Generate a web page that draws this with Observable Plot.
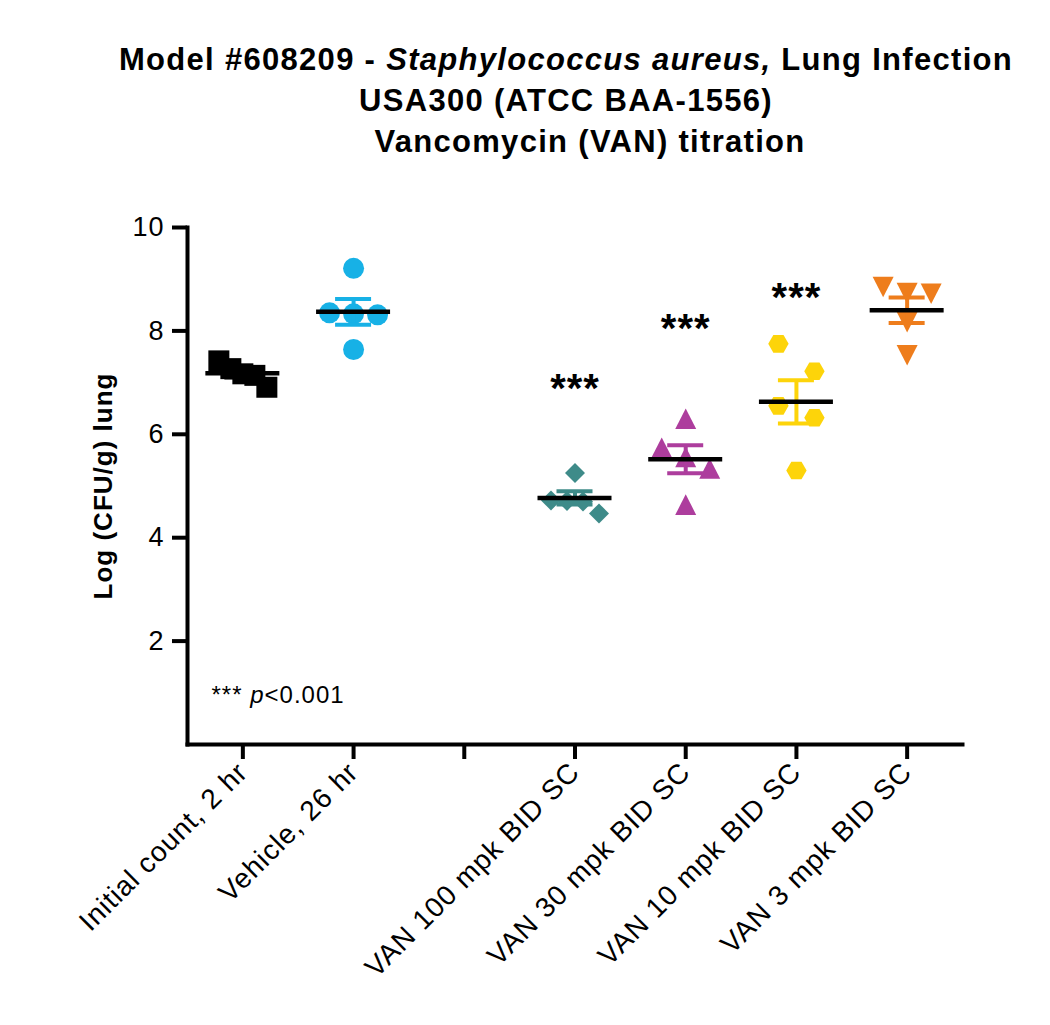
<!DOCTYPE html>
<html>
<head>
<meta charset="utf-8">
<script src="https://cdn.jsdelivr.net/npm/d3@7"></script>
<script src="https://cdn.jsdelivr.net/npm/@observablehq/plot@0.6"></script>
<style>
  body { margin: 0; background: #fff; }
  #title { height: 175px; box-sizing: border-box; padding-top: 39px; padding-left: 82px;
    text-align: center; font: bold 31px "Liberation Sans", Arial, sans-serif; line-height: 41px;
    letter-spacing: 1.3px; color: #000; }
  #title .l3 { position: relative; left: 24px; }
</style>
</head>
<body>
<div id="title">Model #608209 - <i>Staphylococcus aureus,</i> Lung Infection<br>USA300 (ATCC BAA-1556)<br><span class="l3">Vancomycin (VAN) titration</span></div>
<div id="chart"></div>
<script>
// ---- data ----
const groups = ["Initial count, 2 hr", "Vehicle, 26 hr", "", "VAN 100 mpk BID SC", "VAN 30 mpk BID SC", "VAN 10 mpk BID SC", "VAN 3 mpk BID SC"];
const initialCount = [7.42, 7.27, 7.17, 7.14, 6.91];
const vehicle = [9.21, 8.35, 8.33, 8.31, 7.64];
const van100 = [5.25, 4.72, 4.71, 4.70, 4.47];
const van30 = [6.30, 5.74, 5.56, 5.34, 4.64];
const van10 = [7.75, 7.22, 6.55, 6.32, 5.30];
const van3 = [8.85, 8.73, 8.72, 8.17, 7.53];
const sigGroups = ["VAN 100 mpk BID SC", "VAN 30 mpk BID SC", "VAN 10 mpk BID SC"];
const sigLevels = [7.0, 8.17, 8.77];
const sigLabel = "***";
const footnote = "*** p<0.001";
const yTicks = [2, 4, 6, 8, 10];
const yLabel = "Log (CFU/g) lung";

// ---- layout ----
const W = 1050, H = 850, mL = 187, mR = 88, mT = 52, mB = 281;
const step = (W - mL - mR) / groups.length;
const binOrigin = 6.88, binSize = 0.9; // scatter rows (value bins) like the column-scatter layout

// ---- symbols ----
const sym = {
  square: { draw(c, s) { const k = Math.sqrt(s / Math.PI); c.rect(-k, -k, 2 * k, 2 * k); } },
  circle: { draw(c, s) { const k = Math.sqrt(s / Math.PI); c.moveTo(k, 0); c.arc(0, 0, k, 0, 2 * Math.PI); } },
  diamond: { draw(c, s) { const h = 0.95 * Math.sqrt(s / Math.PI); c.moveTo(0, -h); c.lineTo(h, 0); c.lineTo(0, h); c.lineTo(-h, 0); c.closePath(); } },
  triUp: { draw(c, s) { const k = Math.sqrt(s / Math.PI), h = 0.98 * k; c.moveTo(0, -h); c.lineTo(k, h); c.lineTo(-k, h); c.closePath(); } },
  triDown: { draw(c, s) { const k = Math.sqrt(s / Math.PI), h = 0.98 * k; c.moveTo(0, h); c.lineTo(k, -h); c.lineTo(-k, -h); c.closePath(); } },
  hexagon: { draw(c, s) { const R = 0.97 * Math.sqrt(s / Math.PI), a = R * 0.866; c.moveTo(R, 0); c.lineTo(R / 2, a); c.lineTo(-R / 2, a); c.lineTo(-R, 0); c.lineTo(-R / 2, -a); c.lineTo(R / 2, -a); c.closePath(); } }
};

const series = [
  { name: groups[0], values: initialCount, color: "#000000", symbol: sym.square },
  { name: groups[1], values: vehicle, color: "#17b1e6", symbol: sym.circle },
  { name: groups[3], values: van100, color: "#3e8b89", symbol: sym.diamond },
  { name: groups[4], values: van30, color: "#ad3d9d", symbol: sym.triUp },
  { name: groups[5], values: van10, color: "#fdd40a", symbol: sym.hexagon },
  { name: groups[6], values: van3, color: "#ee7d1c", symbol: sym.triDown }
];

// scatter layout: points falling in the same value bin share a row and are spread horizontally
function spread(values) {
  const order = d3.range(values.length).sort((a, b) => values[b] - values[a]);
  const rows = d3.groups(order, i => Math.floor((values[i] - binOrigin) / binSize)).map(d => d[1]);
  const off = new Array(values.length).fill(0);
  rows.forEach(r => {
    const n = r.length;
    if (n < 2) return;
    const half = n === 2 ? 18 : 24;
    r.forEach((i, k) => { off[i] = (-half + 2 * half * k / (n - 1)) / step; });
  });
  return off;
}

const points = [];
const stats = [];
series.forEach(s => {
  const gi = groups.indexOf(s.name);
  const off = spread(s.values);
  s.values.forEach((v, i) => points.push({ group: s.name, gi, xj: gi + off[i], value: v }));
  const mean = d3.mean(s.values);
  const sem = d3.deviation(s.values) / Math.sqrt(s.values.length);
  stats.push({ group: s.name, gi, mean, lo: mean - sem, hi: mean + sem, color: s.color });
});
const sig = sigGroups.map((g, i) => ({ gi: groups.indexOf(g), y: sigLevels[i], text: sigLabel }));

const meanHalf = 37 / step, capHalf = 18 / step;

const marks = [];
series.forEach(s => {
  marks.push(Plot.dot(points.filter(p => p.group === s.name), {
    x: "xj", y: "value", r: 10.5, symbol: s.symbol, fill: s.color, stroke: "none"
  }));
});
marks.push(
  Plot.ruleX(stats, { x: "gi", y1: "lo", y2: "hi", stroke: "color", strokeWidth: 4 }),
  Plot.ruleY(stats, { y: "hi", x1: d => d.gi - capHalf, x2: d => d.gi + capHalf, stroke: "color", strokeWidth: 4 }),
  Plot.ruleY(stats, { y: "lo", x1: d => d.gi - capHalf, x2: d => d.gi + capHalf, stroke: "color", strokeWidth: 4 }),
  Plot.ruleY(stats, { y: "mean", x1: d => d.gi - meanHalf, x2: d => d.gi + meanHalf, stroke: "#000", strokeWidth: 4.5 }),
  Plot.text(sig, { x: "gi", y: "y", text: "text", fontSize: 40, fontWeight: "bold", dy: 7, fill: "#000" }),
  Plot.text([footnote], { frameAnchor: "bottom-left", textAnchor: "start", dx: 24, dy: -42, fontSize: 24, fill: "#000" }),
  Plot.text([yLabel], { frameAnchor: "left", textAnchor: "middle", rotate: -90, dx: -84, fontSize: 26, fontWeight: "bold", fill: "#000" }),
  Plot.frame({ anchor: "left", strokeWidth: 4, strokeLinecap: "square" }),
  Plot.frame({ anchor: "bottom", strokeWidth: 4, strokeLinecap: "square" }),
  Plot.axisY({ ticks: yTicks, tickSize: 15, strokeWidth: 4, tickPadding: 8, fontSize: 27, label: null }),
  Plot.axisX({ ticks: d3.range(groups.length), tickFormat: i => groups[i], tickSize: 15, strokeWidth: 4, tickRotate: -45, fontSize: 28, tickPadding: 8, label: null })
);

const chart = Plot.plot({
  width: W, height: H, marginLeft: mL, marginRight: mR, marginTop: mT, marginBottom: mB,
  style: { fontFamily: "'Liberation Sans', Arial, sans-serif", letterSpacing: "1px", color: "#000", background: "#fff" },
  x: { domain: [-0.5, groups.length - 0.5] },
  y: { domain: [0, 10] },
  marks
});
document.getElementById("chart").appendChild(chart);

// italic p in the footnote
d3.select(chart).selectAll("text").filter(function () { return this.textContent === footnote; })
  .each(function () {
    const t = d3.select(this);
    const [stars, rest] = footnote.split(" p");
    t.text(null);
    t.append("tspan").text(stars + " ");
    t.append("tspan").attr("font-style", "italic").text("p");
    t.append("tspan").text(rest);
  });
</script>
</body>
</html>
